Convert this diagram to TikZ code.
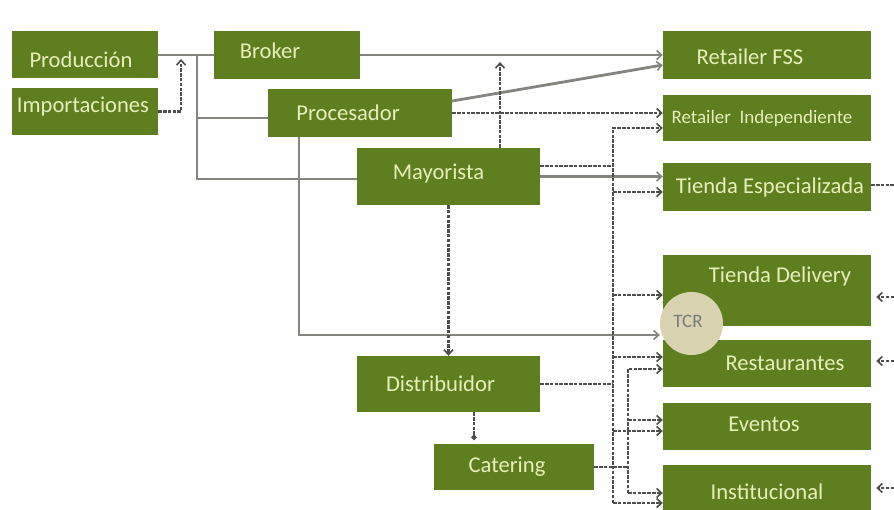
\documentclass[tikz,border=0pt]{standalone}
\usepackage{fontspec}
\setmainfont{Carlito}
\usetikzlibrary{positioning, arrows.meta}
\definecolor{olive}{HTML}{5E7E1F}
\definecolor{cream}{HTML}{E6EFBA}
\definecolor{tcrfill}{HTML}{D9D3B1}
\definecolor{lineg}{HTML}{858580}
\definecolor{dashg}{HTML}{4E4E4C}

\begin{document}
\begin{tikzpicture}[x=1pt,y=-1pt,
  box/.style={fill=olive, inner sep=0pt},
  lbl/.style={text=cream, font=\fontsize{22.6}{26}\selectfont},
  solidln/.style={draw=lineg, line width=2.8pt},
  dashln/.style={draw=dashg, line width=2.2pt, dash pattern=on 3.5pt off 1.3pt},
  tip/.style={-{Straight Barb[length=5pt,width=9pt,line width=1.6pt]}}]
\useasboundingbox[fill=white] (0,0) rectangle (894,510);

% sources and middle boxes
\node[box, minimum width=146pt, minimum height=47pt,
  label={[lbl,xshift=-4pt,yshift=-5pt]center:Producción}] (prod) at (85,55) {};
\node[box, minimum width=146pt, minimum height=47pt,
  label={[lbl,xshift=-2pt,yshift=5pt]center:Importaciones}] (imp) at (85,111.5) {};
\node[box, minimum width=146pt, minimum height=48pt,
  label={[lbl,xshift=-17pt,yshift=4pt]center:Broker}] (broker) at (287,55) {};
\node[box, minimum width=184pt, minimum height=48pt,
  label={[lbl,xshift=-12pt]center:Procesador}] (proc) at (360,113) {};
\node[box, minimum width=183pt, minimum height=57pt,
  label={[lbl,xshift=-10pt,yshift=3pt]center:Mayorista}] (mayo) at (448.5,176.5) {};
\node[box, minimum width=183pt, minimum height=56pt,
  label={[lbl,xshift=-8pt]center:Distribuidor}] (dist) at (448.5,384) {};
\node[box, minimum width=160pt, minimum height=46pt,
  label={[lbl,xshift=-7pt]center:Catering}] (cat) at (514,467) {};

% channels on the right
\node[box, minimum width=208pt, minimum height=48pt,
  label={[lbl,xshift=-17pt,yshift=-2pt]center:Retailer FSS}] (rfss) at (767,55) {};
\node[box, minimum width=208pt, minimum height=46pt,
  label={[lbl,xshift=-5pt,font=\fontsize{19}{22}\selectfont]center:Retailer\ \ Independiente}] (rind) at (767,118) {};
\node[box, minimum width=208pt, minimum height=48pt,
  label={[lbl,xshift=3pt]center:Tienda Especializada}] (tesp) at (767,187) {};
\node[box, minimum width=208pt, minimum height=71pt,
  label={[lbl,xshift=13pt,yshift=14pt]center:Tienda Delivery}] (tdel) at (767,290.5) {};
\node[box, minimum width=208pt, minimum height=47pt,
  label={[lbl,xshift=18pt]center:Restaurantes}] (rest) at (767,363.5) {};
\node[box, minimum width=208pt, minimum height=47pt,
  label={[lbl,xshift=-3pt,yshift=2pt]center:Eventos}] (even) at (767,426.5) {};
\node[box, minimum width=208pt, minimum height=52pt,
  label={[lbl,yshift=-1pt]center:Institucional}] (inst) at (767,491) {};
\node[circle, fill=tcrfill, minimum size=63pt, inner sep=0pt,
  text=dashg!80, font=\fontsize{19}{22}\selectfont] (tcr) at (691.5,323.5) {};
\node[text=dashg!75, font=\fontsize{19}{22}\selectfont] (tcrtxt) at (688,321) {TCR};

% helper points
\coordinate (split) at (197,55);
\coordinate (imptip) at (181,59);
\coordinate (upx) at (500,62);
\coordinate (bus) at (613,128);
\coordinate (bustwo) at (628,369);
\coordinate (edgeA) at (894,185);
\coordinate (inA) at (894,297);
\coordinate (inB) at (894,361);
\coordinate (inC) at (894,488);

% solid flows
\draw[solidln] (prod.east) -- (broker.west);
\draw[solidln] (split) |- ([yshift=-5pt]proc.west);
\draw[solidln] (split) |- ([yshift=-2.5pt]mayo.west);
\draw[solidln,tip] (broker.east) -- (rfss.west);
\draw[solidln,tip] ([yshift=12pt]proc.east) -- ([yshift=-10pt]rfss.west);
\draw[solidln,tip] (mayo.east) -- (mayo.east -| tesp.west);
\draw[solidln,tip] ([xshift=-61pt]proc.south) |- ([yshift=-11.5pt]tcr.west);

% dashed flows
\draw[dashln,tip] (imp.east) -| (imptip);
\draw[dashln,tip] (upx |- mayo.north) -- (upx);
\draw[dashln,tip] (proc.east) -- (proc.east -| rind.west);
\draw[dashln,tip] (mayo.south) -- (dist.north);
\draw[dashln,-{Circle[length=5pt]}] ([xshift=25.5pt]dist.south) -- ([xshift=25.5pt,yshift=4pt]dist.south |- cat.north);
\draw[dashln] ([yshift=10.5pt]mayo.east) -- ([yshift=10.5pt]mayo.east -| bus);
\draw[dashln] (dist.east) -- (dist.east -| bus);
\draw[dashln] (cat.east) -- (cat.east -| bustwo);
\draw[dashln] ([yshift=2pt]tesp.east) -- (edgeA);

% first bus
\draw[dashln,tip] ([yshift=-12pt]inst.west -| bus) |- ([yshift=-10pt]rind.west);
\foreach \dest/\dy in {tesp/-5, tdel/-4.5, rest/6.5, even/-4.5, inst/-12}
  \draw[dashln,tip] ([yshift=\dy pt]\dest.west -| bus) -- ([yshift=\dy pt]\dest.west);

% second bus
\draw[dashln,tip] ([yshift=-2pt]inst.west -| bustwo) |- ([yshift=-5.5pt]rest.west);
\foreach \dest/\dy in {even/6.5, inst/-2}
  \draw[dashln,tip] ([yshift=\dy pt]\dest.west -| bustwo) -- ([yshift=\dy pt]\dest.west);

% incoming from the right
\draw[dashln,tip] (inA) -- ([xshift=5pt]inA -| tdel.east);
\draw[dashln,tip] (inB) -- ([xshift=5pt]inB -| rest.east);
\draw[dashln,tip] (inC) -- ([xshift=5pt]inC -| inst.east);
\end{tikzpicture}
\end{document}
